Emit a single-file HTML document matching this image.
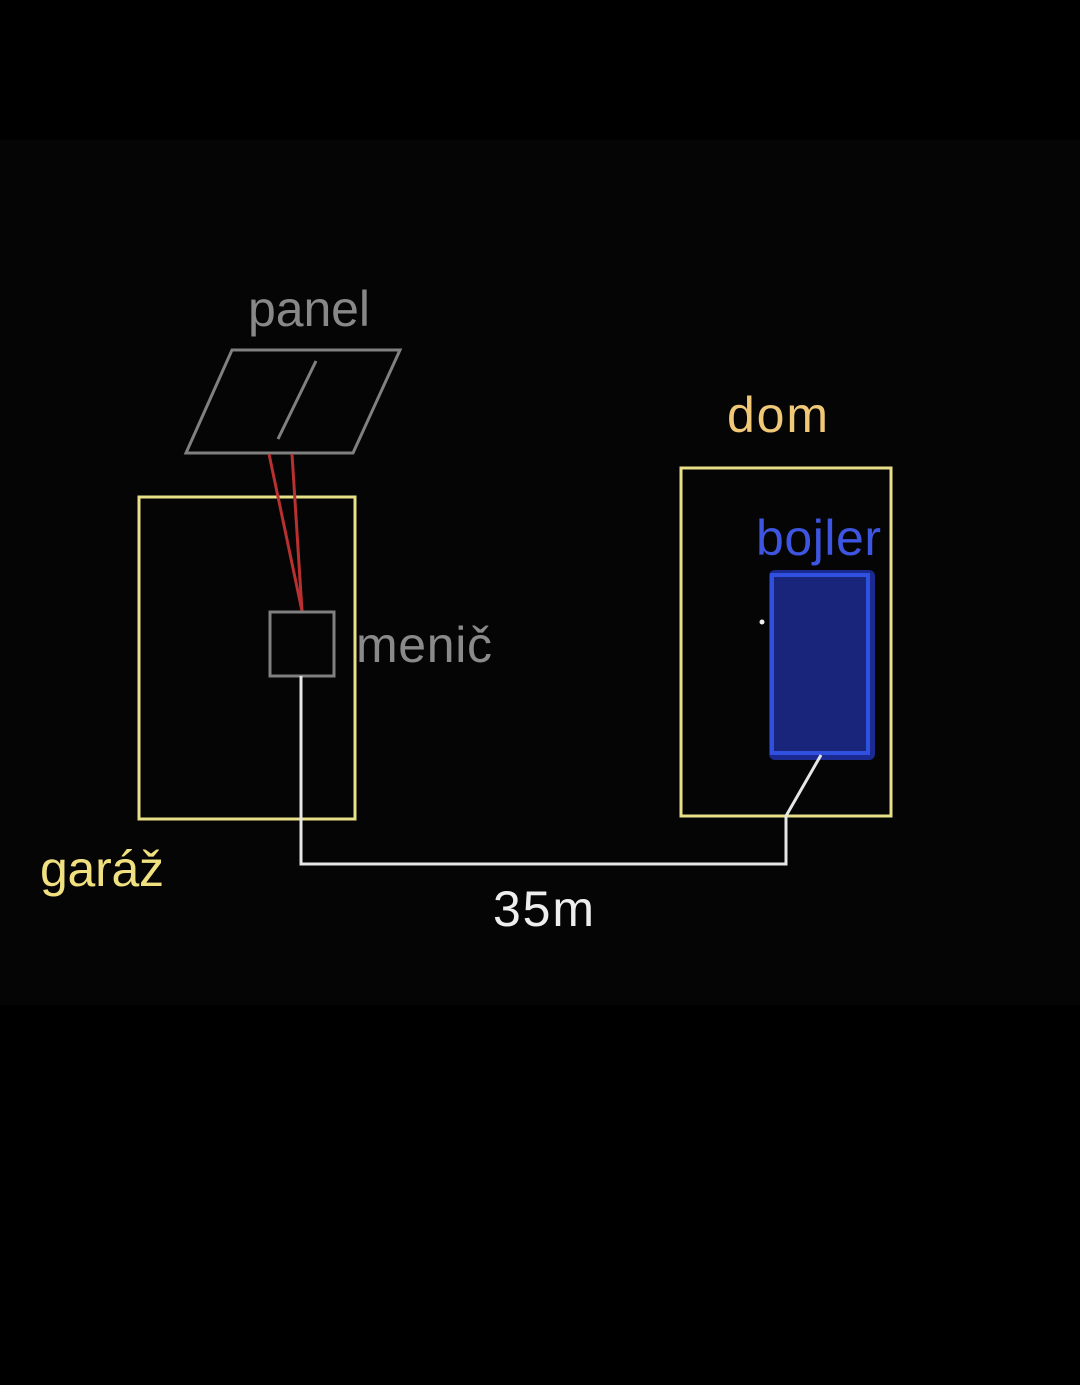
<!DOCTYPE html>
<html><head><style>
html,body{margin:0;padding:0;background:#000;}
svg{display:block}
text{font-family:"Liberation Sans",sans-serif;font-size:50px}
</style></head><body>
<svg width="1080" height="1385" viewBox="0 0 1080 1385">
<rect width="1080" height="1385" fill="#000"/>
<rect x="0" y="140" width="1080" height="865" fill="#050505"/>
<polygon points="232,350 400,350 353,453 186,453" fill="none" stroke="#808080" stroke-width="3"/>
<line x1="316" y1="361" x2="278" y2="439" stroke="#808080" stroke-width="3"/>
<rect x="139" y="497" width="216" height="322" fill="none" stroke="#e8e088" stroke-width="3"/>
<line x1="269" y1="454" x2="302" y2="611" stroke="#b83030" stroke-width="3"/>
<line x1="292" y1="454" x2="302" y2="611" stroke="#b83030" stroke-width="3"/>
<rect x="270" y="612" width="64" height="64" fill="none" stroke="#808080" stroke-width="3"/>
<rect x="681" y="468" width="210" height="348" fill="none" stroke="#e8e088" stroke-width="3"/>
<rect x="769" y="570" width="106" height="190" rx="6" fill="#1a2a90"/>
<rect x="772" y="575" width="96" height="178" fill="#18257a" stroke="#3050e0" stroke-width="4"/>
<circle cx="762" cy="622" r="2.5" fill="#eee"/>
<polyline points="301,676 301,864 786,864 786,816 821,755" fill="none" stroke="#e6e6e6" stroke-width="3"/>
<text x="248" y="326" fill="#888" textLength="122">panel</text>
<text x="727" y="432" fill="#f0c878" textLength="101">dom</text>
<text x="756" y="555" fill="#3d55e0" textLength="125">bojler</text>
<text x="356" y="662" fill="#8a8a8a" textLength="136">menič</text>
<text x="40" y="886" fill="#f0e080" textLength="124">garáž</text>
<text x="493" y="926" fill="#eeeeee" textLength="101">35m</text>
</svg>
</body></html>
